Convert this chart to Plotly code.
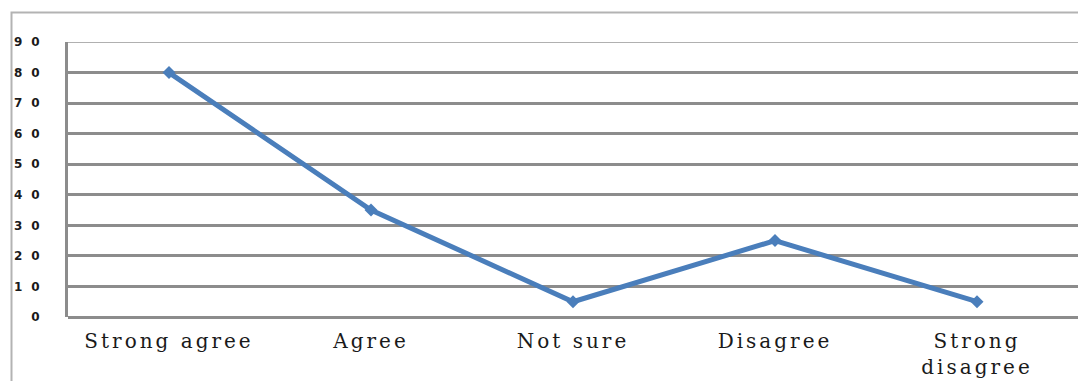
import plotly.graph_objects as go

# Survey responses
categories = ["Strong agree", "Agree", "Not sure", "Disagree", "Strong<br>disagree"]
values = [80, 35, 5, 25, 5]
y_ticks = [0, 10, 20, 30, 40, 50, 60, 70, 80, 90]

W, H = 1078, 381
L, R, T, B = 68, 0, 42, 64
pw, ph = W - L - R, H - T - B

def px_x(p):
    return (p - L) / pw

def px_y(p):
    return (H - B - p) / ph

GRID = "#8c8c8c"

fig = go.Figure()
fig.add_trace(go.Scatter(
    x=list(range(len(categories))),
    y=values,
    mode="lines+markers",
    line=dict(color="#4a7ebb", width=5),
    marker=dict(symbol="diamond", size=10, color="#4a7ebb"),
    showlegend=False,
    hoverinfo="skip",
))

# outer chart frame
fig.add_shape(
    type="rect", xref="paper", yref="paper",
    x0=px_x(11.5), x1=px_x(1090), y0=px_y(400), y1=px_y(12.5),
    line=dict(color="#b3b3b3", width=2), fillcolor="rgba(0,0,0,0)",
    layer="below",
)
# top gridline at the axis maximum
fig.add_shape(
    type="line", xref="paper", yref="y",
    x0=0, x1=1, y0=y_ticks[-1], y1=y_ticks[-1],
    line=dict(color="#b0b0b0", width=2), layer="below",
)

fig.update_layout(
    width=W, height=H,
    margin=dict(l=L, r=R, t=T, b=B, pad=0),
    paper_bgcolor="white", plot_bgcolor="white",
    xaxis=dict(
        tickmode="array",
        tickvals=list(range(len(categories))),
        ticktext=categories,
        range=[-0.5, 4.5],
        showgrid=False, zeroline=False, showline=False,
        ticks="", ticklabelstandoff=10,
        tickfont=dict(family="DejaVu Serif", size=20, color="#1a1a1a"),
    ),
    yaxis=dict(
        tickmode="array",
        tickvals=y_ticks,
        ticktext=[str(v) for v in y_ticks],
        range=[0, 90],
        showgrid=True, gridcolor=GRID, gridwidth=3,
        zeroline=True, zerolinecolor=GRID, zerolinewidth=3,
        showline=True, linecolor=GRID, linewidth=3,
        ticks="", ticklabelstandoff=14,
        tickfont=dict(family="DejaVu Sans", size=12, color="#1a1a1a", weight=600),
    ),
)

# widen the letter spacing of the axis labels
spacing_js = """
document.querySelectorAll('.xtick text').forEach(function(t){ t.style.letterSpacing='3px'; });
document.querySelectorAll('.ytick text').forEach(function(t){ t.style.letterSpacing='9px'; });
"""

fig.write_html("out.html", post_script=spacing_js)
